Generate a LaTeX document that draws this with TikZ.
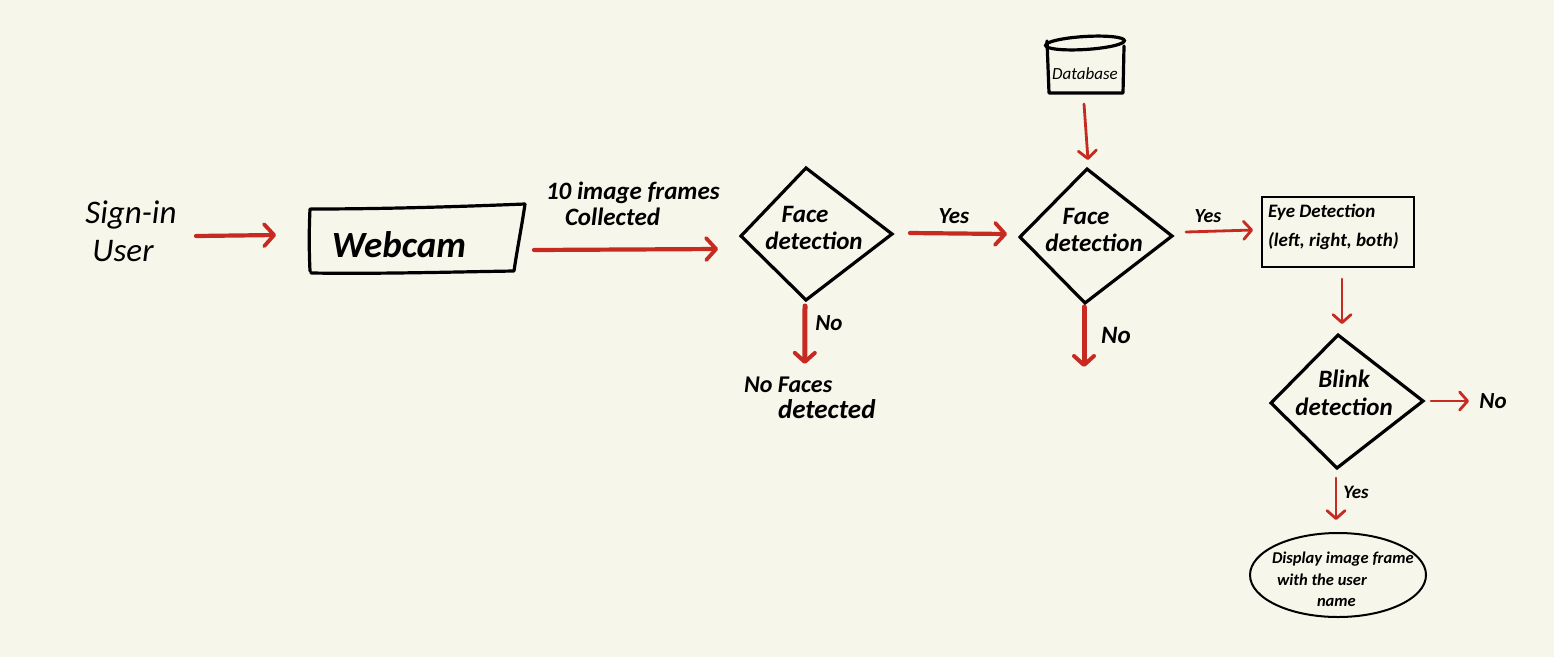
\documentclass[tikz,border=0pt]{standalone}
\usepackage{fontspec}
\setmainfont{Carlito}
\usetikzlibrary{arrows.meta,shapes.geometric}
\definecolor{paper}{HTML}{F6F6EA}
\definecolor{pen}{HTML}{C62A20}
\newcommand{\fsz}[1]{\fontsize{#1}{#1}\selectfont}
\tikzset{
  x=1pt,y=-1pt,
  hand/.style={font=\fontsize{#1}{#1}\selectfont\itshape\bfseries,text=black,inner sep=0pt,outer sep=0pt,align=center},
  thin hand/.style={font=\fontsize{#1}{#1}\selectfont\itshape,text=black,inner sep=0pt,outer sep=0pt,align=center},
  decision/.style={draw=black,line width=3.2pt,line join=miter},
  bigarrow/.style={draw=pen,line width=4.2pt,line cap=round,-{Straight Barb[length=10pt,width=22pt,round,line width=3.8pt]}},
  smallarrow/.style={draw=pen,line width=2.8pt,line cap=round,-{Straight Barb[length=8pt,width=18pt,round,line width=2.8pt]}},
  hugearrow/.style={draw=pen,line width=5pt,line cap=round,-{Straight Barb[length=9pt,width=20pt,round,line width=4pt]}},
}
\begin{document}
\begin{tikzpicture}
\useasboundingbox (0,0) rectangle (1554,657);
\fill[paper] (0,0) rectangle (1554,657);

% corner points of the three hand-drawn decision shapes
\coordinate (d1n) at (806,168);  \coordinate (d1e) at (892,234);
\coordinate (d1s) at (806,300);  \coordinate (d1w) at (741,236);
\coordinate (d2n) at (1087,169); \coordinate (d2e) at (1172,236);
\coordinate (d2s) at (1085,303); \coordinate (d2w) at (1020,237);
\coordinate (d3n) at (1338,335); \coordinate (d3e) at (1423,401);
\coordinate (d3s) at (1337,468); \coordinate (d3w) at (1271,403);
\draw[decision] (d1n) -- (d1e) -- (d1s) -- (d1w) -- cycle;
\draw[decision] (d2n) -- (d2e) -- (d2s) -- (d2w) -- cycle;
\draw[decision] (d3n) -- (d3e) -- (d3s) -- (d3w) -- cycle;

% nodes
\node[thin hand=33] (signin) at (127,231) {\hspace*{8pt}Sign-in\\[5pt]\hspace*{-8pt}User};
\node[minimum width=214pt,minimum height=68pt,inner sep=0pt,outer sep=0pt] (webcam) at (416,240) {};
\node[hand=37] (webcamt) at (399,245) {Webcam};
\node[hand=25,align=left,anchor=west] (frames) at (546,204) {10 image frames\\[1pt]\hspace*{19pt}Collected};
\node[hand=25] (d1t) at (814,228) {\hspace*{-18pt}Face\\[2pt]detection};
\node[hand=25] (d2t) at (1094,230) {\hspace*{-16pt}Face\\[2pt]detection};
\node[hand=25] (d3t) at (1344,393) {Blink\\[3pt]detection};
\node[minimum width=78pt,minimum height=60pt,inner sep=0pt,outer sep=0pt] (db) at (1085,65) {};
\node[thin hand=17] (dbt) at (1085,74) {Database};
\node[draw=black,line width=2.2pt,minimum width=152pt,minimum height=70pt,inner sep=0pt,outer sep=0pt] (eye) at (1338,232) {};
\node[hand=19,align=left,anchor=west] (eyet) at (1268,227) {Eye Detection\\[10pt](left, right, both)};
\node[ellipse,draw=black,line width=2pt,minimum width=176pt,minimum height=84pt,inner sep=0pt,outer sep=0pt] (ell) at (1338,575) {};
\node[hand=16.5,align=left,anchor=north west] (ellt) at (1272,552) {Display image frame\\[5pt]\hspace*{5pt}with the user\\[5pt]\hspace*{45pt}name};
\node[hand=23] (yes1) at (954,216) {Yes};
\node[hand=20] (yes2) at (1208,216) {Yes};
\node[hand=19] (yes3) at (1356,492) {Yes};
\node[hand=23] (no1) at (829,323) {No};
\node[hand=25] (no2) at (1116,335) {No};
\node[hand=23] (no3) at (1493,401) {No};
\node[hand=24,align=left,anchor=north west] (nofaces) at (744,377) {No Faces\\[2pt]\hspace*{34pt}{\fsz{27}detected}};
\coordinate (d2noend) at (1084,367);

% hand-drawn outlines
\draw[black,line width=3.2pt,line join=round,line cap=round]
  (311,209) .. controls (380,209) and (450,207) .. (525,204)
  (525,204) .. controls (522,225) and (517,250) .. (514,271)
  (514,271) .. controls (450,272) and (380,274) .. (311,273)
  (310,209) .. controls (309,230) and (309,250) .. (310,271);
\draw[black,line width=3.2pt,line join=round,line cap=round]
  (1047,41) -- (1049,93) -- (1123,93) -- (1124,46);
\draw[black,line width=3.2pt,rotate around={3.5:(1085,43)}] (1085,43) ellipse [x radius=39.5,y radius=6.5];

% connectors
\draw[bigarrow] ([shift={(69,5)}]signin.center) -- ([shift={(-33,-5)}]webcam.west);
\draw[bigarrow] ([shift={(11,10)}]webcam.east) -- ([shift={(-23,13)}]d1w);
\draw[bigarrow] ([shift={(18,-1)}]d1e) -- ([shift={(-13,-3)}]d2w);
\draw[smallarrow] ([shift={(14,-4)}]d2e) -- ([shift={(-9,-2)}]eye.west);
\draw[smallarrow] ([shift={(-1,9)}]db.south) -- ([shift={(1,-9)}]d2n);
\draw[smallarrow] ([shift={(4,12)}]eye.south) -- ([shift={(4,-11)}]d3n);
\draw[smallarrow] ([shift={(8,0)}]d3e) -- ([shift={(-24,0)}]no3.center);
\draw[smallarrow] ([shift={(-1,10)}]d3s) -- ([shift={(-2,-13)}]ell.north);
\draw[hugearrow] ([shift={(-1,6)}]d1s) -- ([shift={(-5,-34)}]nofaces.center);
\draw[hugearrow] ([shift={(-1,4)}]d2s) -- (d2noend);
\end{tikzpicture}
\end{document}
